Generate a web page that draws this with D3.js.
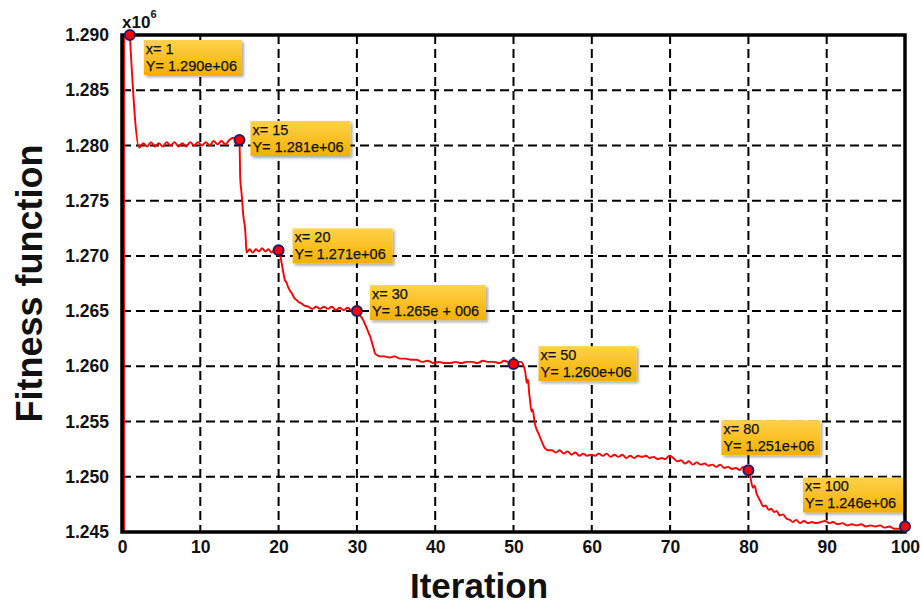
<!DOCTYPE html>
<html>
<head>
<meta charset="utf-8">
<script src="https://cdn.jsdelivr.net/npm/d3@7"></script>
<style>
  html, body { margin: 0; padding: 0; background: #fff; }
  svg { display: block; font-family: "Liberation Sans", Arial, sans-serif; }
</style>
</head>
<body>
<svg id="chart" width="922" height="606"></svg>
<script>
// Fitness value (x10^6) per iteration of the optimiser.
const iterations = [
  0, 0, 1, 2.2, 2.7, 3.2, 3.7, 4.2, 4.7, 5.2, 5.7, 6.2, 6.7, 7.2, 7.7, 8.2, 8.7, 9.2, 9.7,
  10.2, 10.7, 11.2, 11.7, 12.2, 12.7, 13.2, 13.7, 14.3, 14.7, 15,
  15.05, 15.1, 15.25, 15.35, 15.45, 15.55, 15.7, 15.8, 15.9,
  16.3, 16.7, 17.1, 17.5, 17.9, 18.3, 18.7, 19.1, 19.5, 20,
  20.4, 20.6, 20.8, 21.0, 21.2, 21.5, 21.7, 22.0, 22.3, 22.6, 22.9, 23.3, 23.8,
  24.3, 24.8, 25.3, 25.8, 26.3, 26.8, 27.3, 27.8, 28.3, 28.8, 29.3, 29.7, 30,
  30.3, 30.8, 31.1, 31.3, 31.5, 31.7, 31.9, 32.1, 32.3, 32.6, 32.95, 33.5, 34.2,
  34.8, 35.5, 36.2, 36.9, 37.6, 38.3, 39.0, 39.8, 40.5, 41.2, 41.9, 42.6, 43.3,
  44.0, 44.7, 45.4, 46.1, 46.8, 47.5, 48.2, 48.8, 50,
  50.5, 51.0, 51.2, 51.5, 51.7, 51.85, 52.0, 52.1, 52.3, 52.45, 52.7, 53.0, 53.2,
  53.6, 54.0, 54.5, 54.9,
  55.4, 55.9, 56.4, 56.9, 57.4, 57.9, 58.4, 58.9, 59.4, 59.9, 60.4, 60.9, 61.4,
  61.9, 62.4, 62.9, 63.4, 63.9, 64.4, 64.9, 65.4, 65.9, 66.4, 66.9, 67.4, 67.9,
  68.4, 68.9, 69.4, 69.9, 70.4, 70.9, 71.4, 71.9, 72.4, 72.9, 73.4, 73.9, 74.4,
  74.9, 75.4, 75.9, 76.4, 76.9, 77.4, 77.9, 78.4, 78.9, 79.3, 79.7, 80,
  80.2, 80.4, 80.6, 80.8, 81.0, 81.3, 81.6, 81.9, 82.2, 82.6, 82.9, 83.3, 83.6,
  84.0, 84.4, 84.9, 85.3, 85.7, 86.1, 86.6, 87.1, 87.6, 88.1, 88.6, 89.2, 89.8,
  90.3, 90.8, 91.4, 92.0, 92.6, 93.2, 93.8, 94.4, 95.0, 95.6, 96.2, 96.8, 97.4,
  98.0, 98.6, 99.3, 100
];
const fitness = [
  1.2450, 1.2900, 1.2900, 1.2798, 1.2802, 1.2799, 1.2803, 1.2799, 1.2802, 1.2799, 1.2803, 1.2800, 1.2803, 1.2799, 1.2802, 1.2799, 1.2803, 1.2800, 1.2803,
  1.2800, 1.2803, 1.2800, 1.2804, 1.2801, 1.2804, 1.2801, 1.2805, 1.2807, 1.2804, 1.2805,
  1.2790, 1.2770, 1.2758, 1.2750, 1.2740, 1.2733, 1.2726, 1.2716, 1.2703,
  1.2706, 1.2703, 1.2706, 1.2704, 1.2707, 1.2704, 1.2706, 1.2703, 1.2706, 1.2705,
  1.2693, 1.2685, 1.2678, 1.2676, 1.2672, 1.2668, 1.2666, 1.2662, 1.2660, 1.2658, 1.2657, 1.2655, 1.2654,
  1.2652, 1.2654, 1.2652, 1.2654, 1.2652, 1.2654, 1.2651, 1.2653, 1.2651, 1.2653, 1.2651, 1.2652, 1.2650,
  1.2647, 1.2642, 1.2637, 1.2634, 1.2630, 1.2627, 1.2622, 1.2617, 1.2612, 1.2610, 1.2609, 1.2609, 1.2608,
  1.2609, 1.2607, 1.2607, 1.2606, 1.2606, 1.2604, 1.2605, 1.2603, 1.2604, 1.2603, 1.2603, 1.2604, 1.2603,
  1.2604, 1.2604, 1.2603, 1.2605, 1.2604, 1.2604, 1.2603, 1.2605, 1.2602,
  1.2604, 1.2604, 1.2602, 1.2595, 1.2585, 1.2588, 1.2576, 1.2570, 1.2559, 1.2561, 1.2549, 1.2542, 1.2539,
  1.2532, 1.2526, 1.2524, 1.2524,
  1.2522, 1.2524, 1.2521, 1.2523, 1.2520, 1.2522, 1.2519, 1.2521, 1.2519, 1.2520, 1.2519, 1.2521, 1.2519,
  1.2521, 1.2518, 1.2520, 1.2518, 1.2520, 1.2517, 1.2519, 1.2517, 1.2519, 1.2518, 1.2519, 1.2517, 1.2518,
  1.2516, 1.2517, 1.2516, 1.2519, 1.2517, 1.2514, 1.2515, 1.2512, 1.2514, 1.2511, 1.2513, 1.2511, 1.2512,
  1.2510, 1.2511, 1.2509, 1.2511, 1.2508, 1.2509, 1.2507, 1.2508, 1.2506, 1.2509, 1.2507, 1.2506,
  1.2503, 1.2494, 1.2490, 1.2492, 1.2486, 1.2481, 1.2477, 1.2473, 1.2474, 1.2470, 1.2471, 1.2468, 1.2469,
  1.2465, 1.2466, 1.2462, 1.2461, 1.2459, 1.2461, 1.2458, 1.2460, 1.2458, 1.2459, 1.2458, 1.2459, 1.2460,
  1.2458, 1.2459, 1.2457, 1.2458, 1.2456, 1.2457, 1.2456, 1.2457, 1.2455, 1.2456, 1.2455, 1.2456, 1.2454,
  1.2455, 1.2453, 1.2453, 1.2455
];

// Data tips
const tipIter = [1, 15, 20, 30, 50, 80, 100];
const tipFit = [1.2900, 1.2805, 1.2705, 1.2650, 1.2602, 1.2506, 1.2455];
const tipText = ["1.290e+06", "1.281e+06", "1.271e+06", "1.265e + 006", "1.260e+06", "1.251e+06", "1.246e+06"];

// Axis ticks
const xTicks = [0, 10, 20, 30, 40, 50, 60, 70, 80, 90, 100];
const yTicks = [1.245, 1.250, 1.255, 1.260, 1.265, 1.270, 1.275, 1.280, 1.285, 1.290];

(function draw() {
  const svg = d3.select("#chart");
  const pL = 122, pR = 905, pT = 35, pB = 532;

  const x = d3.scaleLinear().domain([0, 100]).range([pL, pR]);
  const y = d3.scaleLinear().domain([1.245, 1.290]).range([pB, pT]);
  const defs = svg.append("defs");

  // Dashed grid
  const grid = svg.append("g")
    .attr("stroke", "#000").attr("stroke-width", 2).attr("stroke-dasharray", "9,5");
  grid.selectAll("line.v").data(xTicks.slice(1, -1)).join("line")
    .attr("class", "v")
    .attr("x1", d => x(d)).attr("x2", d => x(d))
    .attr("y1", pT).attr("y2", pB);
  grid.selectAll("line.h").data(yTicks.slice(1, -1)).join("line")
    .attr("class", "h")
    .attr("x1", pL).attr("x2", pR)
    .attr("y1", d => y(d)).attr("y2", d => y(d));

  // Axis labels
  const yAxis = d3.axisLeft(y).tickValues(yTicks).tickFormat(d3.format(".3f")).tickSize(0).tickPadding(13);
  const xAxis = d3.axisBottom(x).tickValues(xTicks).tickFormat(d3.format("d")).tickSize(0).tickPadding(9);

  const gy = svg.append("g").attr("transform", `translate(${pL},0)`).call(yAxis);
  const gx = svg.append("g").attr("transform", `translate(0,${pB})`).call(xAxis);
  [gy, gx].forEach(g => {
    g.select(".domain").remove();
    g.selectAll("text")
      .attr("font-family", "'Liberation Sans', Arial, sans-serif")
      .attr("font-size", 17.5).attr("font-weight", "bold").attr("fill", "#111");
  });

  // Curve
  const pts = iterations.map((it, i) => ({ it, v: fitness[i] }));
  defs.append("clipPath").attr("id", "plotClip")
    .append("rect").attr("x", pL).attr("y", pT - 2)
    .attr("width", pR - pL).attr("height", pB - pT + 2);

  const straight = d3.line().x(d => x(d.it)).y(d => y(d.v));
  const smooth = d3.line().x(d => x(d.it)).y(d => y(d.v)).curve(d3.curveMonotoneX);

  const curve = svg.append("g").attr("clip-path", "url(#plotClip)")
    .attr("fill", "none").attr("stroke", "#ff0000").attr("stroke-width", 1.9)
    .attr("stroke-linejoin", "round");
  curve.append("path").attr("d", straight(pts.slice(0, 3))).attr("transform", "translate(2,0)");
  curve.append("path").attr("d", smooth(pts.slice(2)));

  // Frame
  svg.append("rect")
    .attr("x", pL).attr("y", pT)
    .attr("width", pR - pL).attr("height", pB - pT)
    .attr("fill", "none").attr("stroke", "#000").attr("stroke-width", 3.5);

  // Exponent note
  const expo = svg.append("text").attr("x", pL).attr("y", 28)
    .attr("font-size", 17).attr("font-weight", "bold").attr("fill", "#111");
  expo.append("tspan").text("x10");
  expo.append("tspan").attr("dy", -10).attr("font-size", 11).text("6");

  // Titles
  svg.append("text")
    .attr("transform", `translate(42,${(pT + pB) / 2}) rotate(-90)`)
    .attr("text-anchor", "middle")
    .attr("font-size", 36).attr("font-weight", "bold").attr("fill", "#111")
    .text("Fitness function");
  svg.append("text")
    .attr("x", 479).attr("y", 598)
    .attr("text-anchor", "middle")
    .attr("font-size", 35).attr("font-weight", "bold").attr("fill", "#111")
    .text("Iteration");

  // Data tip markers
  svg.append("g").selectAll("circle").data(tipIter).join("circle")
    .attr("cx", d => x(d)).attr("cy", (d, i) => y(tipFit[i]))
    .attr("r", 5).attr("fill", "#ff0000")
    .attr("stroke", "#1b1f6e").attr("stroke-width", 2);

  // Data tip boxes
  const grad = defs.append("linearGradient").attr("id", "tipFill")
    .attr("x1", 0).attr("y1", 0).attr("x2", 0).attr("y2", 1);
  grad.append("stop").attr("offset", "0%").attr("stop-color", "#ffd24a");
  grad.append("stop").attr("offset", "100%").attr("stop-color", "#f2b000");
  const shadow = defs.append("filter").attr("id", "tipShadow")
    .attr("x", "-10%").attr("y", "-10%").attr("width", "130%").attr("height", "140%");
  shadow.append("feDropShadow").attr("dx", 2).attr("dy", 2)
    .attr("stdDeviation", 1.5).attr("flood-color", "#000").attr("flood-opacity", 0.35);

  const tipOffset = [[14, 5], [11, -19], [14, -22], [13, -26], [25, -18], [-27, -50], [-102, -49]];
  const tipWidth = [98, 100, 100, 116, 98, 99, 100];

  const tips = svg.append("g").selectAll("g").data(tipIter).join("g")
    .attr("transform", (d, i) =>
      `translate(${x(d) + tipOffset[i][0]},${y(tipFit[i]) + tipOffset[i][1]})`);
  tips.append("rect")
    .attr("width", (d, i) => tipWidth[i]).attr("height", 35)
    .attr("fill", "url(#tipFill)").attr("filter", "url(#tipShadow)");
  const tipLine = (sel, yPos, fn) => sel.append("text").attr("x", 2).attr("y", yPos)
    .attr("font-size", 14.5).attr("fill", "#111").attr("stroke", "#111")
    .attr("stroke-width", 0.25).text(fn);
  tipLine(tips, 14, d => `x= ${d}`);
  tipLine(tips, 31, (d, i) => `Y= ${tipText[i]}`);
})();
</script>
</body>
</html>
